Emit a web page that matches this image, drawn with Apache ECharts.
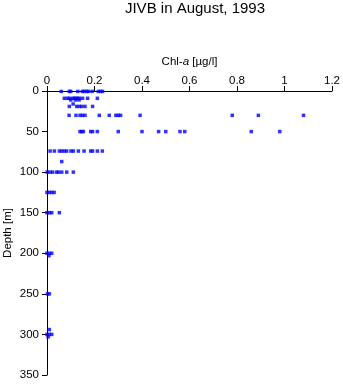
<!DOCTYPE html>
<html><head><meta charset="utf-8">
<script src="https://cdn.jsdelivr.net/npm/echarts@6/dist/echarts.min.js"></script>
<style>html,body{margin:0;padding:0;background:#fff}#c{width:343px;height:384px}</style>
</head><body><div id="c"></div>
<script>
// Depth rows [m] and Chl-a values [µg/l]
const depths = [0.5, 9, 11, 16, 19, 30, 50, 74, 87, 100, 125, 150, 200, 203, 250, 294, 300, 303];
const chlD0   = [0.06,0.094,0.10,0.13,0.149,0.157,0.167,0.174,0.19,0.216,0.226,0.234];
const chlD9   = [0.073,0.086,0.094,0.108,0.115,0.122,0.129,0.136,0.150,0.171,0.212];
const chlD11  = [0.10,0.12,0.135];
const chlD16  = [0.11];
const chlD19  = [0.094,0.125,0.136,0.146,0.16,0.192];
const chlD30  = [0.093,0.122,0.139,0.149,0.16,0.22,0.262,0.29,0.30,0.31,0.392,0.78,0.89,1.08];
const chlD50  = [0.139,0.146,0.153,0.184,0.192,0.212,0.30,0.40,0.47,0.50,0.56,0.58,0.86,0.98];
const chlD74  = [0.013,0.031,0.052,0.062,0.073,0.083,0.101,0.111,0.132,0.156,0.184,0.192,0.212,0.233];
const chlD87  = [0.062];
const chlD100 = [0.001,0.013,0.024,0.041,0.048,0.062,0.083,0.111];
const chlD125 = [0.0,0.01,0.02,0.03];
const chlD150 = [0.0,0.01,0.02,0.052];
const chlD200 = [0.0,0.01,0.02];
const chlD203 = [0.008];
const chlD250 = [0.002,0.01];
const chlD294 = [0.01];
const chlD300 = [0.0,0.01,0.02];
const chlD303 = [0.005];
const rows = [chlD0,chlD9,chlD11,chlD16,chlD19,chlD30,chlD50,chlD74,chlD87,chlD100,chlD125,chlD150,chlD200,chlD203,chlD250,chlD294,chlD300,chlD303];
const xTicks = [0,0.2,0.4,0.6,0.8,1,1.2];
const yTicks = [0,50,100,150,200,250,300,350];

const data = [];
rows.forEach((r,i)=>r.forEach(v=>data.push([v, depths[i]])));

const font = 'Liberation Sans, Arial, Helvetica, sans-serif';
const chart = echarts.init(document.getElementById('c'), null, {renderer:'canvas'});
chart.setOption({
  animation:false,
  backgroundColor:'#fff',
  title:{text:'JIVB in August, 1993', left:190, top:-4, textAlign:'center',
    textStyle:{fontFamily:font, fontSize:15, fontWeight:'normal', color:'#000'}},
  grid:{left:47, right:11, top:91, bottom:9, containLabel:false, outerBoundsMode:'none'},
  xAxis:{type:'value', position:'top', min:0, max:1.2, interval:0.2,
    name:'{n|Chl-}{i|a}{n| [µg/l]}', nameLocation:'middle', nameGap:23, nameMoveOverlap:false,
    nameTextStyle:{rich:{n:{fontFamily:font,fontSize:11.5,color:'#000'},i:{fontFamily:font,fontSize:11.5,fontStyle:'italic',color:'#000'}}},
    axisLine:{show:true, onZero:false, lineStyle:{color:'#000', width:1}},
    axisTick:{show:true, inside:false, length:5, lineStyle:{color:'#000'}},
    axisLabel:{fontFamily:font, fontSize:11.5, color:'#000', margin:4,
      formatter:v=>xTicks.includes(+v.toFixed(1))? String(+v.toFixed(1)) : ''},
    splitLine:{show:false}},
  yAxis:{type:'value', inverse:true, min:0, max:350, interval:50,
    name:'Depth [m]', nameLocation:'middle', nameGap:33, nameRotate:90, nameMoveOverlap:false,
    nameTextStyle:{fontFamily:font, fontSize:11.5, color:'#000'},
    axisLine:{show:true, onZero:false, lineStyle:{color:'#000', width:1}},
    axisTick:{show:true, inside:false, length:5, lineStyle:{color:'#000'}},
    axisLabel:{fontFamily:font, fontSize:11.5, color:'#000', margin:8,
      formatter:v=>yTicks.includes(v)? String(v):''},
    splitLine:{show:false}},
  series:[{type:'scatter', data:data, symbol:'rect', symbolSize:3.5,
    itemStyle:{color:'#0000ff'}, silent:true}]
});
</script></body></html>
